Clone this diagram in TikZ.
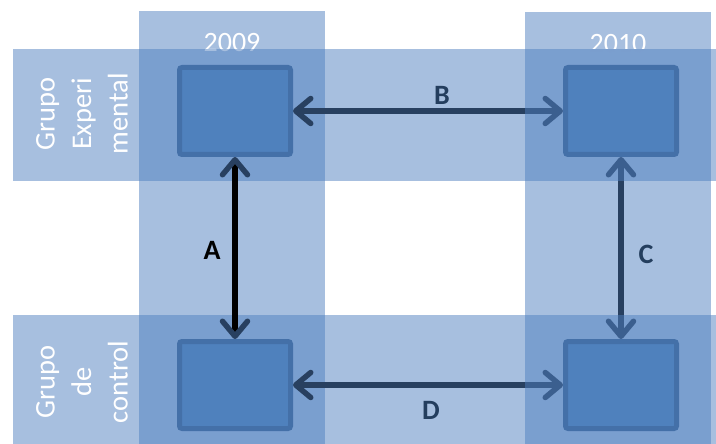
\documentclass[tikz,border=0pt]{standalone}
\usepackage{fontspec}
\setmainfont{Carlito}
\usetikzlibrary{arrows.meta}

\definecolor{bandblue}{RGB}{79,127,191}
\definecolor{boxblue}{RGB}{79,129,189}
\definecolor{boxedge}{RGB}{68,112,168}
\definecolor{navy}{RGB}{40,64,96}
\definecolor{labelnavy}{RGB}{36,62,94}

\pgfdeclarelayer{bands}
\pgfdeclarelayer{links}
\pgfdeclarelayer{veil}
\pgfsetlayers{bands,links,veil,main}

\begin{document}
\begin{tikzpicture}[x=1pt,y=-1pt,
  band/.style={fill=bandblue,fill opacity=0.5,draw=none},
  box/.style={draw=boxedge,fill=boxblue,line width=5pt,rounded corners=2.5pt,
    minimum width=111pt,minimum height=87pt,inner sep=0pt,outer sep=2.5pt},
  link/.style={draw=navy,line width=5.5pt,
    {Straight Barb[round,length=15pt,width=25pt]}-{Straight Barb[round,length=15pt,width=25pt]}},
  blacklink/.style={draw=black,line width=6pt,
    {Straight Barb[round,length=15pt,width=25pt,color=navy,line width=5.5pt]}-{Straight Barb[round,length=15pt,width=25pt,color=navy,line width=5.5pt]}},
  yeartext/.style={text=white,font=\fontsize{28}{30}\selectfont,inner sep=0pt},
  grouptext/.style={text=white,font=\fontsize{28.5}{36.5}\selectfont,rotate=90,align=center,inner sep=0pt},
  letter/.style={font=\fontsize{28}{30}\selectfont\bfseries,inner sep=0pt}]

\useasboundingbox (0,0) rectangle (716,444);

% the four measurement boxes
\node[box] (e09) at (235,111) {};
\node[box] (e10) at (621,111) {};
\node[box] (c09) at (235,385) {};
\node[box] (c10) at (621,385) {};

% translucent bands: columns for the years, rows for the groups
\begin{pgfonlayer}{bands}
  \fill[band] (139,11) rectangle (325,444);
  \fill[band] (525,12) rectangle (711,49);
  \fill[band] (525,181) rectangle (711,315);
  \node[yeartext] (y09) at (232,43) {2009};
  \node[yeartext] (y10) at (618,44) {2010};
  \fill[band] (13,49) rectangle (716,181);
  \fill[band] (13,315) rectangle (716,444);
\end{pgfonlayer}

% comparisons between the boxes
\begin{pgfonlayer}{links}
  \draw[blacklink] (e09) -- (c09);
  \draw[link] (e09) -- (e10);
  \draw[link] (c09) -- (c10);
  \draw[link] (e10) -- (c10);
\end{pgfonlayer}

% the 2010 column where it crosses the group rows
\begin{pgfonlayer}{veil}
  \fill[band] (525,49) rectangle (711,181);
  \fill[band] (525,315) rectangle (711,444);
\end{pgfonlayer}

\node[grouptext] (gexp) at (82,114) {Grupo\\Experi\\mental};
\node[grouptext] (gctl) at (82,382) {Grupo\\de\\control};

\node[letter,text=black] (la) at (212,250) {A};
\node[letter,text=labelnavy] (lb) at (442,95) {B};
\node[letter,text=labelnavy] (lc) at (646,254) {C};
\node[letter,text=labelnavy] (ld) at (431,410) {D};
\end{tikzpicture}
\end{document}
